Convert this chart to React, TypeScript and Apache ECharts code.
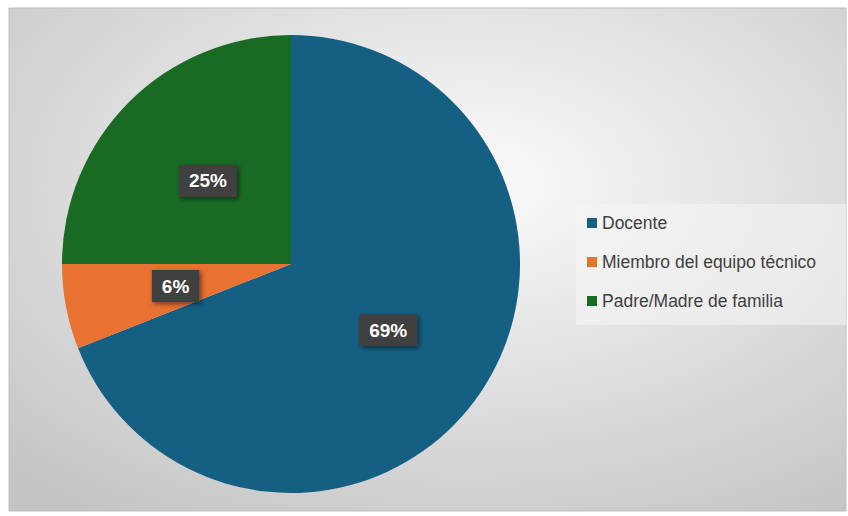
import React, { useEffect, useRef } from "react";
import * as echarts from "echarts";

const categories = ["Docente", "Miembro del equipo técnico", "Padre/Madre de familia"];
const values = [69, 6, 25];
const colors = ["#156082", "#E97132", "#196B24"];

export default function App() {
  const ref = useRef<HTMLDivElement>(null);
  useEffect(() => {
    document.body.style.margin = "0";
    const chart = echarts.init(ref.current!, null, { renderer: "svg" });
    chart.setOption({
      animation: false,
      color: colors,
      graphic: [
        {
          type: "rect",
          z: -10,
          shape: { x: 9, y: 8, width: 837, height: 503 },
          style: {
            fill: {
              type: "radial",
              x: 0.55,
              y: 0.35,
              r: 0.8,
              colorStops: [
                { offset: 0, color: "#fbfbfb" },
                { offset: 1, color: "#c4c4c4" },
              ],
            },
            stroke: "#c0c0c0",
            lineWidth: 1,
          },
        },
        {
          type: "rect",
          z: -9,
          shape: { x: 576, y: 204, width: 270, height: 121 },
          style: { fill: "rgba(245,245,245,0.55)" },
        },
      ],
      legend: {
        orient: "vertical",
        left: 582,
        top: 208,
        icon: "rect",
        itemWidth: 10,
        itemHeight: 10,
        itemGap: 19,
        textStyle: {
          fontFamily: "Liberation Sans",
          fontSize: 17.5,
          lineHeight: 20,
          color: "#404040",
        },
        data: categories,
      },
      series: [
        {
          type: "pie",
          center: [291, 264],
          radius: [0, 229],
          startAngle: 90,
          clockwise: true,
          label: {
            show: true,
            position: "inside",
            formatter: (p: any) => p.value + "%",
            color: "#ffffff",
            fontFamily: "Liberation Sans",
            fontWeight: "bold",
            fontSize: 19,
            backgroundColor: "#404040",
            padding: [7, 10, 6, 10],
            shadowColor: "rgba(0,0,0,0.5)",
            shadowBlur: 5,
            shadowOffsetX: 2,
            shadowOffsetY: 2,
          },
          labelLine: { show: false },
          itemStyle: { borderWidth: 0 },
          emphasis: { disabled: true },
          data: categories.map((name, i) => ({ name, value: values[i] })),
        },
      ],
    });
    return () => chart.dispose();
  }, []);
  return <div ref={ref} style={{ width: 848, height: 516 }} />;
}
